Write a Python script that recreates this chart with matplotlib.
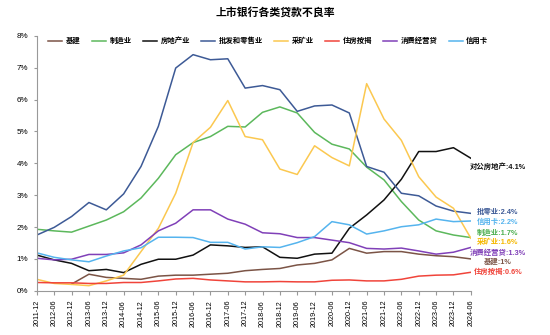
import numpy as np
import matplotlib
matplotlib.use('Agg')
from matplotlib import pyplot as plt
from matplotlib.ticker import FuncFormatter

plt.rcParams['font.family'] = ['Liberation Sans', 'Noto Sans CJK SC', 'DejaVu Sans']

# データ
dates = ['2011-12', '2012-06', '2012-12', '2013-06', '2013-12', '2014-06', '2014-12',
         '2015-06', '2015-12', '2016-06', '2016-12', '2017-06', '2017-12', '2018-06',
         '2018-12', '2019-06', '2019-12', '2020-06', '2020-12', '2021-06', '2021-12',
         '2022-06', '2022-12', '2023-06', '2023-12', '2024-06']

jijian = [np.nan, np.nan, 0.21, 0.52, 0.42, 0.39, 0.36, 0.46, 0.49, 0.49, 0.52, 0.55, 0.63,
          0.67, 0.70, 0.81, 0.86, 0.97, 1.33, 1.18, 1.23, 1.23, 1.15, 1.10, 1.07, 1.00]
zhizao = [1.93, 1.88, 1.84, 2.03, 2.22, 2.48, 2.91, 3.53, 4.27, 4.65, 4.84, 5.16, 5.14,
          5.60, 5.77, 5.58, 4.97, 4.60, 4.45, 3.88, 3.48, 2.80, 2.22, 1.88, 1.75, 1.67]
fangdichan = [1.12, 0.97, 0.86, 0.63, 0.67, 0.57, 0.83, 0.99, 0.99, 1.12, 1.44, 1.41, 1.36,
              1.38, 1.05, 1.02, 1.15, 1.18, 1.96, 2.38, 2.85, 3.50, 4.37, 4.37, 4.49, 4.16]
pifa = [1.75, 1.99, 2.33, 2.77, 2.54, 3.04, 3.90, 5.16, 6.99, 7.41, 7.25, 7.28, 6.36,
        6.44, 6.31, 5.63, 5.80, 5.83, 5.58, 3.90, 3.72, 3.06, 2.98, 2.66, 2.50, 2.43]
caikuang = [0.36, 0.23, 0.20, 0.16, 0.31, 0.49, 1.23, 1.96, 3.06, 4.65, 5.13, 5.97, 4.84,
            4.74, 3.82, 3.65, 4.55, 4.18, 3.92, 6.50, 5.39, 4.72, 3.58, 2.94, 2.59, 1.65]
anjie = [0.26, 0.25, 0.25, 0.23, 0.23, 0.26, 0.26, 0.31, 0.37, 0.39, 0.34, 0.31, 0.28,
         0.28, 0.29, 0.28, 0.28, 0.33, 0.34, 0.31, 0.31, 0.36, 0.46, 0.49, 0.50, 0.58]
xiaofei = [1.02, 0.97, 0.99, 1.14, 1.14, 1.19, 1.44, 1.88, 2.12, 2.54, 2.54, 2.25, 2.09,
           1.82, 1.79, 1.67, 1.67, 1.59, 1.51, 1.33, 1.31, 1.34, 1.25, 1.15, 1.21, 1.36]
xinyongka = [1.19, 1.05, 0.97, 0.91, 1.09, 1.25, 1.35, 1.68, 1.68, 1.67, 1.52, 1.52, 1.31,
             1.38, 1.36, 1.51, 1.70, 2.17, 2.07, 1.78, 1.88, 2.01, 2.07, 2.25, 2.17, 2.19]

series = [
    ('基建', jijian, '#7b5446'),
    ('制造业', zhizao, '#5cb85c'),
    ('房地产业', fangdichan, '#111111'),
    ('批发和零售业', pifa, '#3d5a96'),
    ('采矿业', caikuang, '#fbc850'),
    ('住房按揭', anjie, '#f0443a'),
    ('消费经营贷', xiaofei, '#8040b8'),
    ('信用卡', xinyongka, '#55b4ee'),
]

# 右端のラベル
end_labels = [
    ('对公房地产:4.1%', 3.90, '#111111'),
    ('批零业:2.4%', 2.47, '#3d5a96'),
    ('信用卡:2.2%', 2.15, '#55b4ee'),
    ('制造业:1.7%', 1.82, '#4caf50'),
    ('采矿业:1.6%', 1.51, '#f5b800'),
    ('消费经营贷:1.3%', 1.19, '#8040b8'),
    ('基建:1%', 0.88, '#7b5446'),
    ('住房按揭:0.6%', 0.57, '#f0443a'),
]

fig = plt.figure(figsize=(5.5, 3.35), dpi=100)
ax = fig.add_axes([0.067, 0.132, 0.789, 0.761])

x = np.arange(len(dates))
for name, vals, color in series:
    ax.plot(x, vals, color=color, lw=1.1, label=name)

for text, yv, color in end_labels:
    ax.text(26.55, yv, text, color=color, fontsize=5.3, fontweight='bold',
            ha='center', va='center', clip_on=False)

ax.set_xlim(0, len(dates) - 1)
ax.set_ylim(0, 8)
ax.set_xticks(x)
ax.set_xticklabels(dates, rotation=90, fontsize=5.2)
ax.set_yticks(range(0, 9))
ax.yaxis.set_major_formatter(FuncFormatter(lambda v, p: '{:.0f}%'.format(v)))
ax.tick_params(axis='y', labelsize=5.8, length=2.5, color='#999999')
ax.tick_params(axis='x', length=3, color='#999999')
for s in ['top', 'right']:
    ax.spines[s].set_visible(False)
for s in ['left', 'bottom']:
    ax.spines[s].set_color('#999999')
    ax.spines[s].set_linewidth(0.8)

fig.text(0.5, 0.963, '上市银行各类贷款不良率', ha='center', va='center',
         fontsize=7.8, fontweight='bold')

fig.legend(loc='center', bbox_to_anchor=(0.488, 0.877), ncol=8, frameon=False,
           handlelength=1.9, handletextpad=0.5, columnspacing=1.5,
           prop={'weight': 'bold', 'size': 5.3})

fig.savefig('out.png', dpi=100)
